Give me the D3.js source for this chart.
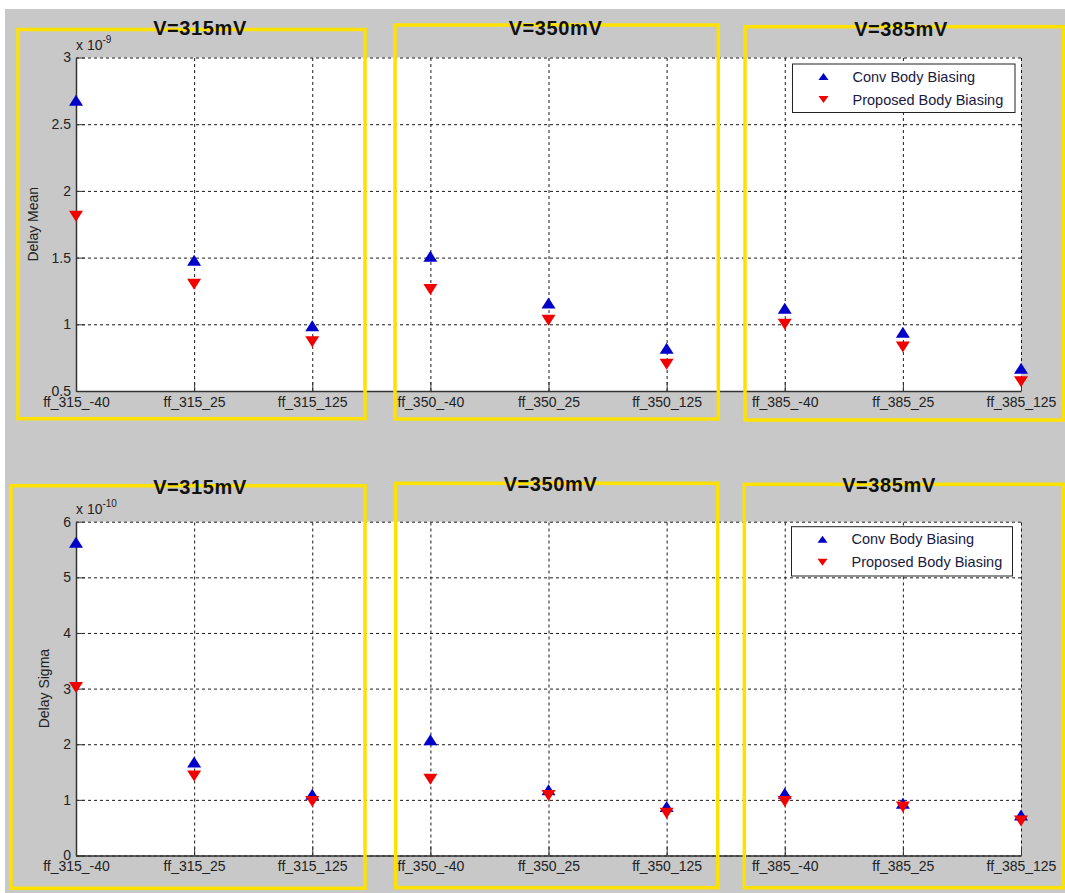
<!DOCTYPE html>
<html><head><meta charset="utf-8">
<script src="https://cdn.jsdelivr.net/npm/d3@7/dist/d3.min.js"></script>
<style>body{margin:0;background:#fff}svg{display:block}</style>
</head><body>
<svg id="chart" width="1065" height="893"></svg>
<script>
// ---------- data ----------
const categories = ["ff_315_-40","ff_315_25","ff_315_125","ff_350_-40","ff_350_25","ff_350_125","ff_385_-40","ff_385_25","ff_385_125"];
const meanConv   = [2.68, 1.48, 0.99, 1.51, 1.16, 0.82, 1.12, 0.94, 0.67];   // x 1e-9
const meanProp   = [1.81, 1.30, 0.87, 1.26, 1.03, 0.70, 1.00, 0.83, 0.57];   // x 1e-9
const sigmaConv  = [5.63, 1.68, 1.10, 2.08, 1.18, 0.88, 1.12, 0.94, 0.73];   // x 1e-10
const sigmaProp  = [3.02, 1.43, 0.97, 1.37, 1.08, 0.76, 0.97, 0.87, 0.62];   // x 1e-10
const meanTicks  = [0.5, 1, 1.5, 2, 2.5, 3];
const sigmaTicks = [0, 1, 2, 3, 4, 5, 6];
const groupTitles = ["V=315mV", "V=350mV", "V=385mV"];
const seriesNames = ["Conv Body Biasing", "Proposed Body Biasing"];
const meanLabel = "Delay Mean", sigmaLabel = "Delay Sigma";
const meanExp = "-9", sigmaExp = "-10";

// ---------- styles / layout ----------
const BLUE = "#0000c8", RED = "#f20000", YELLOW = "#ffe100", BG = "#c8c8c8";
const FONT = "'Liberation Sans', Arial, sans-serif";
const svg = d3.select("#chart");

svg.append("rect").attr("x", 5).attr("y", 9).attr("width", 1060).attr("height", 884).attr("fill", BG);

function triPath(up, w, h) {
  const hw = w / 2, hh = h / 2;
  return up ? `M${-hw},${hh}L${hw},${hh}L0,${-hh}Z` : `M${-hw},${-hh}L${hw},${-hh}L0,${hh}Z`;
}

function drawChart(cfg) {
  const x = d3.scalePoint().domain(categories).range([cfg.left, cfg.right]);
  const y = d3.scaleLinear().domain(cfg.domain).range([cfg.bottom, cfg.top]);
  const g = svg.append("g");

  // plot area
  g.append("rect").attr("x", cfg.left).attr("y", cfg.top)
    .attr("width", cfg.right - cfg.left).attr("height", cfg.bottom - cfg.top).attr("fill", "#fff");

  // grid
  const gridY = g.append("g").attr("transform", `translate(${cfg.left},0)`)
    .call(d3.axisLeft(y).tickValues(cfg.ticks).tickSize(-(cfg.right - cfg.left)).tickFormat(""));
  const gridX = g.append("g").attr("transform", `translate(0,${cfg.bottom})`)
    .call(d3.axisBottom(x).tickSize(-(cfg.bottom - cfg.top)).tickFormat(""));
  [gridY, gridX].forEach(s => {
    s.select(".domain").remove();
    s.selectAll("line").attr("stroke", "#1a1a1a").attr("stroke-width", 1).attr("stroke-dasharray", "3,3");
  });

  // axes
  const ax = g.append("g").attr("transform", `translate(${cfg.left},0)`)
    .call(d3.axisLeft(y).tickValues(cfg.ticks).tickSize(-9).tickSizeOuter(0).tickPadding(5).tickFormat(d3.format("")));
  const bx = g.append("g").attr("transform", `translate(0,${cfg.bottom})`)
    .call(d3.axisBottom(x).tickSize(-9).tickSizeOuter(0).tickPadding(6));
  [ax, bx].forEach(s => {
    s.attr("color", "#333");
    s.select(".domain").attr("stroke-width", 1.5);
    s.selectAll("text").attr("font-family", FONT).attr("font-size", 14).attr("fill", "#222");
  });

  // exponent
  const ex = g.append("text").attr("x", cfg.left).attr("y", cfg.top - 7.5)
    .attr("font-family", FONT).attr("font-size", 14).attr("fill", "#222");
  ex.append("tspan").text("x 10");
  ex.append("tspan").attr("dy", -7).attr("font-size", 10).text(cfg.exp);

  // y label
  g.append("text").attr("transform", `translate(${cfg.labelX},${(cfg.top + cfg.bottom) / 2}) rotate(-90)`)
    .attr("text-anchor", "middle").attr("dy", "0.35em")
    .attr("font-family", FONT).attr("font-size", 14).attr("fill", "#222").text(cfg.label);

  // markers
  const series = [{v: cfg.conv, up: true, c: BLUE}, {v: cfg.prop, up: false, c: RED}];
  series.forEach(s => {
    g.selectAll(null).data(categories).enter().append("path")
      .attr("transform", (d, i) => `translate(${x(d)},${y(s.v[i])})`)
      .attr("d", triPath(s.up, 14, 11)).attr("fill", s.c);
  });

  // legend
  const L = cfg.legend;
  g.append("rect").attr("x", L.x).attr("y", L.y).attr("width", L.w).attr("height", L.h)
    .attr("fill", "#fff").attr("stroke", "#222").attr("stroke-width", 1);
  series.forEach((s, i) => {
    const yy = L.y + 12.5 + i * 23;
    g.append("path").attr("transform", `translate(${L.x + 31},${yy})`)
      .attr("d", triPath(s.up, 10, 7)).attr("fill", s.c);
    g.append("text").attr("x", L.x + 60).attr("y", yy).attr("dy", "0.35em")
      .attr("font-family", FONT).attr("font-size", 14.5).attr("fill", "#1a1a40").text(seriesNames[i]);
  });

  // yellow boxes + titles
  cfg.boxes.forEach((b, i) => {
    svg.append("rect").attr("x", b[0]).attr("y", b[1]).attr("width", b[2] - b[0]).attr("height", b[3] - b[1])
      .attr("fill", "none").attr("stroke", YELLOW).attr("stroke-width", 3.5);
  });
  cfg.titles.forEach((t, i) => {
    svg.append("text").attr("x", t[0]).attr("y", t[1]).attr("text-anchor", "middle")
      .attr("font-family", FONT).attr("font-weight", "bold").attr("font-size", 20)
      .attr("letter-spacing", 0.6).attr("fill", "#111").text(groupTitles[i]);
  });
}

drawChart({
  left: 76, right: 1021, top: 57.5, bottom: 391, domain: [0.5, 3], ticks: meanTicks,
  conv: meanConv, prop: meanProp, exp: meanExp, label: meanLabel, labelX: 33,
  legend: {x: 792.5, y: 64, w: 222.5, h: 48.5},
  boxes: [[18, 29.5, 365, 418.7], [395, 25, 718.3, 419], [745, 26.7, 1063.5, 420]],
  titles: [[200, 35], [555.5, 35], [901, 36]]
});
drawChart({
  left: 76, right: 1021, top: 521.7, bottom: 855.5, domain: [0, 6], ticks: sigmaTicks,
  conv: sigmaConv, prop: sigmaProp, exp: sigmaExp, label: sigmaLabel, labelX: 44,
  legend: {x: 791.5, y: 526.7, w: 221, h: 49.3},
  boxes: [[11, 485.7, 365, 888.3], [395.7, 483.3, 717.7, 887.7], [744.3, 484.3, 1063.3, 887.7]],
  titles: [[200, 494], [550.5, 491], [889, 492]]
});
</script>
</body></html>
